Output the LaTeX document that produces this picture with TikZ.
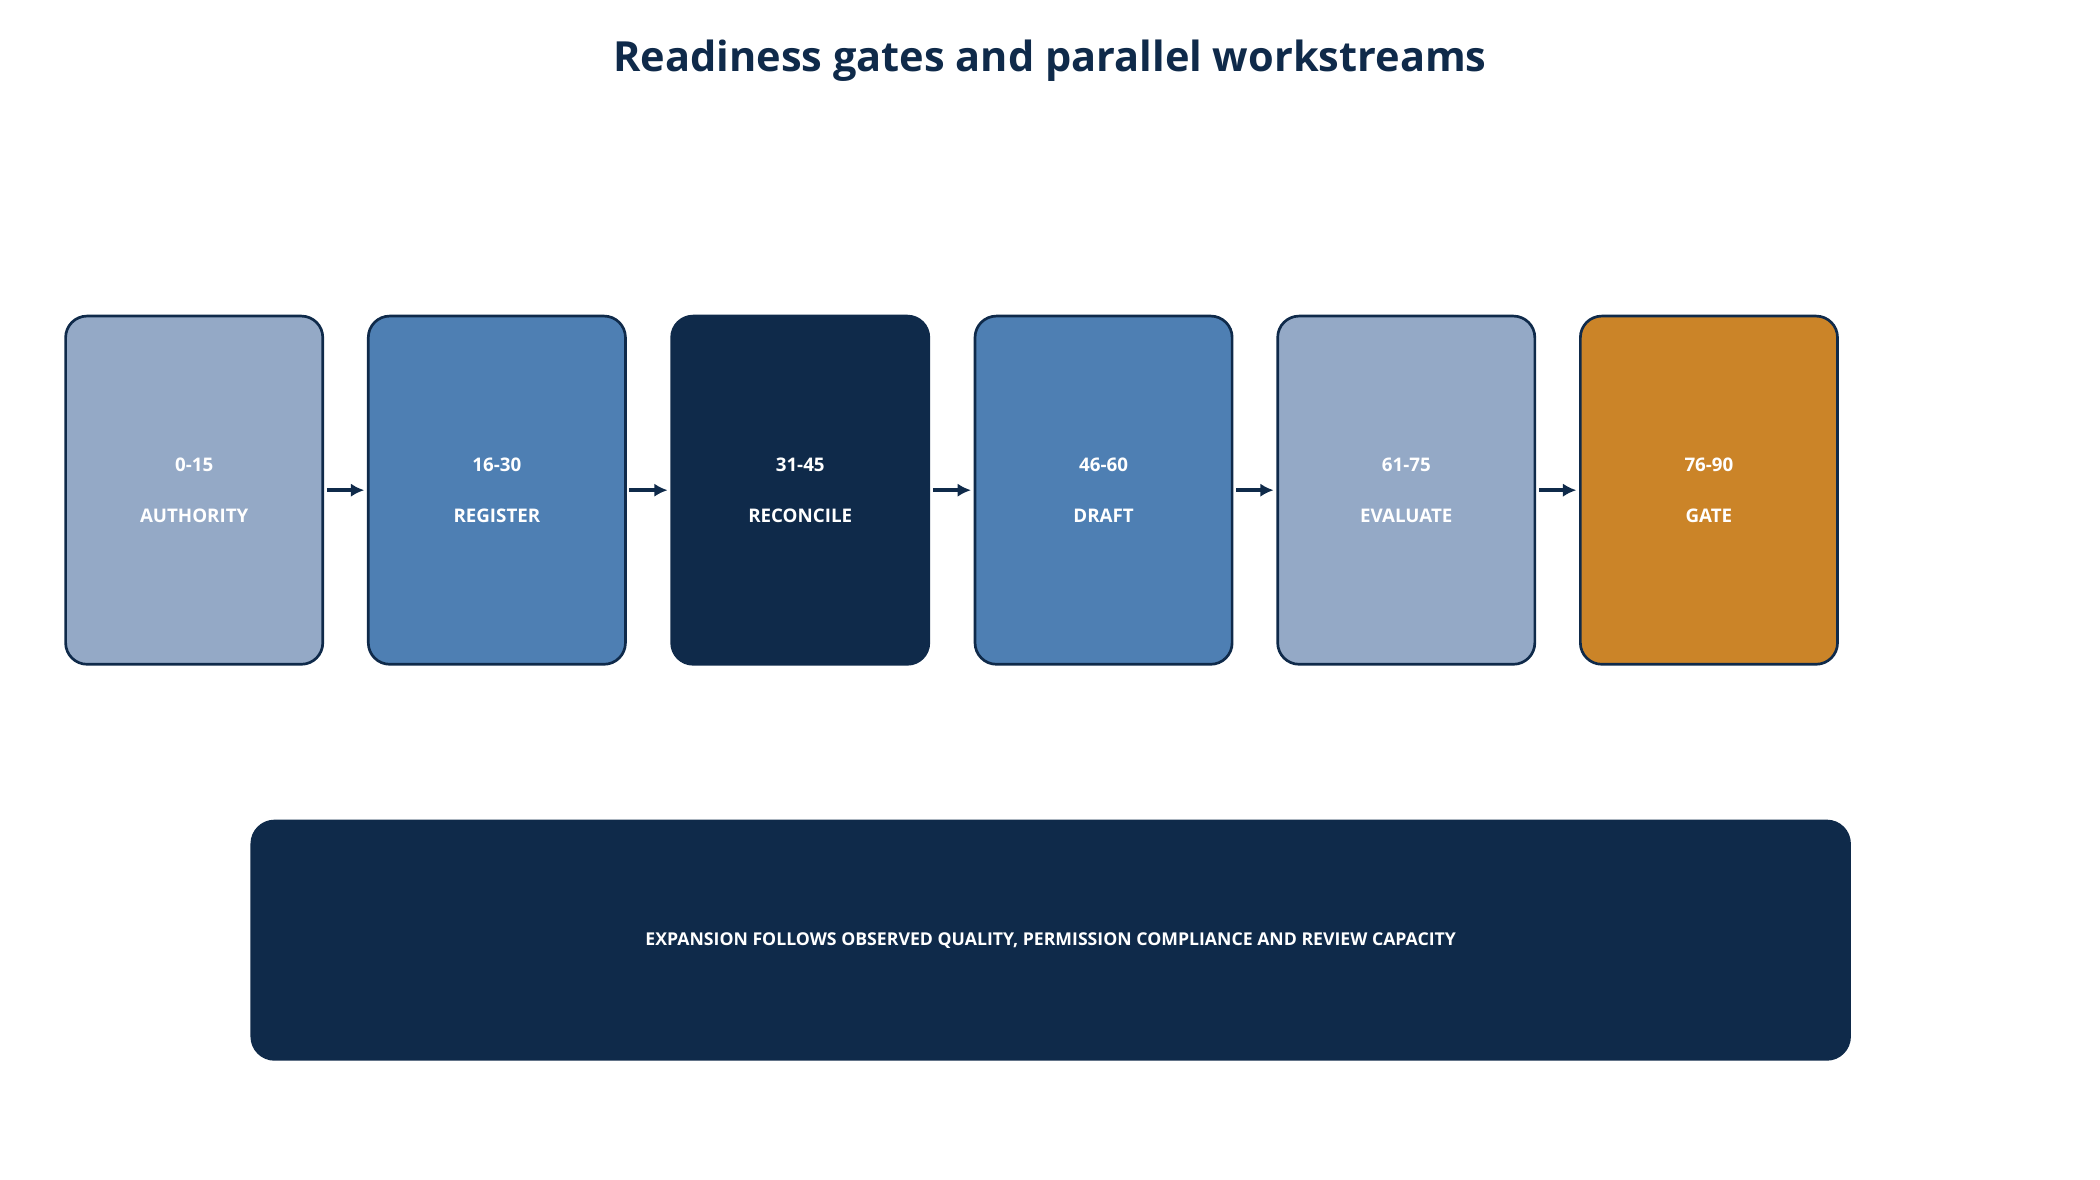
\documentclass[tikz,border=0pt]{standalone}
\usepackage{fontspec}
\setmainfont{Open Sans}
\definecolor{gate-light}{HTML}{94A9C6}
\definecolor{gate-mid}{HTML}{4E7FB3}
\definecolor{gate-dark}{HTML}{0F2A4A}
\definecolor{gate-orange}{HTML}{CB8428}
\tikzset{
  stage/.style={draw=gate-dark, line width=1pt, rounded corners=8pt, minimum width=96pt, minimum height=130pt, text=white, font=\bfseries\fontsize{7}{19}\selectfont, align=center},
  flow/.style={draw=gate-dark, line width=1.6pt, -{Latex[length=5pt,width=5pt]}}
}
\usetikzlibrary{arrows.meta}
\begin{document}
\begin{tikzpicture}[x=0.5pt, y=-0.5pt]
\useasboundingbox (0,0) rectangle (1568,881);
\node[text=gate-dark, font=\bfseries\fontsize{15.5}{18}\selectfont] (title) at (784,45) {Readiness gates and parallel workstreams};
\node[stage, fill=gate-light] (s1) at (145,366) {0-15\\AUTHORITY};
\node[stage, fill=gate-mid] (s2) at (371,366) {16-30\\REGISTER};
\node[stage, fill=gate-dark] (s3) at (597.5,366) {31-45\\RECONCILE};
\node[stage, fill=gate-mid] (s4) at (824,366) {46-60\\DRAFT};
\node[stage, fill=gate-light] (s5) at (1050,366) {61-75\\EVALUATE};
\node[stage, fill=gate-orange] (s6) at (1276,366) {76-90\\GATE};
\foreach \a/\b in {s1/s2,s2/s3,s3/s4,s4/s5,s5/s6}
  \draw[flow] ([xshift=1pt]\a.east) -- ([xshift=-1pt]\b.west);
\node[fill=gate-dark, rounded corners=9pt, minimum width=597.5pt, minimum height=90pt, text=white, font=\bfseries\fontsize{6.6}{8}\selectfont] (note) at (784.5,702) {EXPANSION FOLLOWS OBSERVED QUALITY, PERMISSION COMPLIANCE AND REVIEW CAPACITY};
\end{tikzpicture}
\end{document}
